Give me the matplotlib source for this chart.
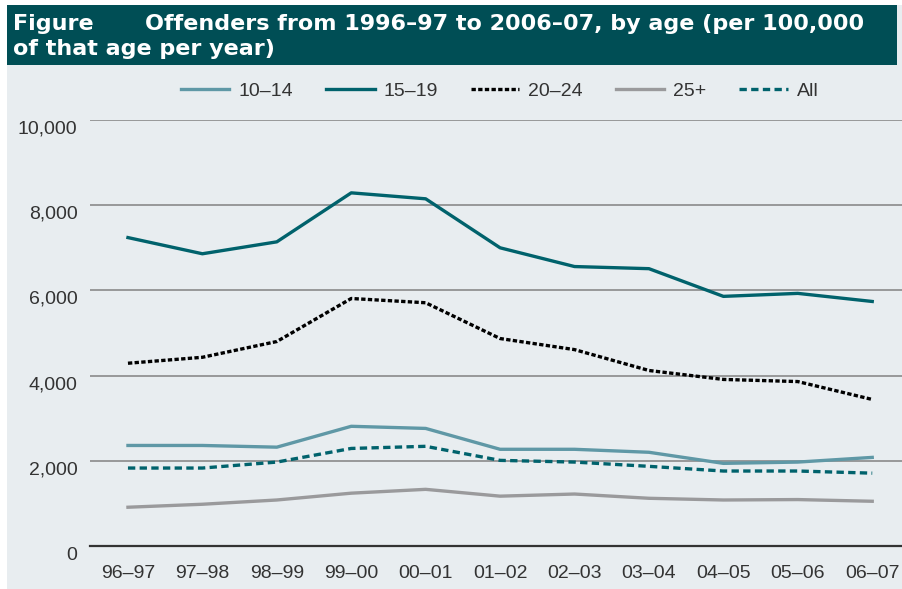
import numpy as np
import matplotlib.pyplot as plt
plt.switch_backend('agg')
from matplotlib.patches import Rectangle
import matplotlib.transforms as mtransforms

years = ['96\u201397', '97\u201398', '98\u201399', '99\u201300', '00\u201301', '01\u201302',
         '02\u201303', '03\u201304', '04\u201305', '05\u201306', '06\u201307']

age_10_14 = [2360, 2360, 2320, 2810, 2760, 2270, 2270, 2200, 1940, 1970, 2080]
age_15_19 = [7240, 6860, 7140, 8290, 8150, 7000, 6560, 6510, 5860, 5930, 5740]
age_20_24 = [4290, 4430, 4800, 5810, 5710, 4870, 4610, 4120, 3910, 3860, 3440]
age_25_up = [910, 980, 1080, 1240, 1330, 1170, 1220, 1120, 1080, 1090, 1050]
age_all = [1830, 1830, 1970, 2290, 2340, 2010, 1970, 1870, 1760, 1760, 1710]

bg = '#e8edf0'
teal = '#00626c'
W, H = 902, 589

fig = plt.figure(figsize=(W / 100, H / 100), dpi=100)
fig.patch.set_facecolor('white')

# panel background and title bar (pixel boxes)
fig.patches.append(Rectangle((7 / W, 0.0), 1 - 7 / W, 1 - 5 / H, transform=fig.transFigure,
                             facecolor=bg, edgecolor='none', zorder=-2))
fig.patches.append(Rectangle((7 / W, 1 - 65 / H), 890 / W, 60 / H, transform=fig.transFigure,
                             facecolor='#004e55', edgecolor='none', zorder=-1))
tkw = dict(color='white', fontsize=16, fontweight='bold', va='baseline', ha='left')
fig.text(13 / W, 1 - 30 / H, 'Figure', **tkw)
fig.text(145 / W, 1 - 30 / H, 'Offenders from 1996\u201397 to 2006\u201307, by age (per 100,000', **tkw)
fig.text(13 / W, 1 - 55 / H, 'of that age per year)', **tkw)

ax = fig.add_axes([90 / W, 1 - 546 / H, 1 - 90 / W, (546 - 120) / H])
ax.set_facecolor(bg)

x = np.arange(len(years))
ax.plot(x, age_10_14, color='#5f98a6', lw=2.4, label='10\u201314')
ax.plot(x, age_15_19, color=teal, lw=2.4, label='15\u201319')
ax.plot(x, age_20_24, color='black', lw=2.4, ls=(0, (1.3, 0.7)), label='20\u201324')
ax.plot(x, age_25_up, color='#9a9a9c', lw=2.4, label='25+')
ax.plot(x, age_all, color=teal, lw=2.4, ls=(0, (2.2, 1.3)), label='All')

ax.set_ylim(0, 10000)
ax.set_xlim(-0.51, 10.4)
ax.set_yticks(range(0, 10001, 2000))
ax.set_yticklabels(['0', '2,000', '4,000', '6,000', '8,000', '10,000'])
ax.set_xticks(x)
ax.set_xticklabels(years)
ax.yaxis.grid(True, color='#8a8a8a', lw=1.2)
ax.set_axisbelow(True)
for s in ('top', 'right', 'left'):
    ax.spines[s].set_visible(False)
ax.spines['bottom'].set_color('#333333')
ax.spines['bottom'].set_linewidth(1.6)
ax.tick_params(length=0, labelsize=14, labelcolor='#333333')
ax.tick_params(axis='x', pad=14)
ax.tick_params(axis='y', pad=9)

shift = mtransforms.ScaledTranslation(0, -7 / 100, fig.dpi_scale_trans)
for lab in ax.get_yticklabels():
    lab.set_transform(lab.get_transform() + shift)
for lab in ax.get_xticklabels() + ax.get_yticklabels():
    lab.set_family('Liberation Sans')

leg = fig.legend(loc='center', bbox_to_anchor=(0.554, 1 - 91 / H), ncol=5, frameon=False,
                 handlelength=2.5, columnspacing=1.7, handletextpad=0.45,
                 prop={'family': 'Liberation Sans', 'size': 14})
for t in leg.get_texts():
    t.set_color('#333333')

fig.savefig('out.png', dpi=100, facecolor=fig.get_facecolor())
